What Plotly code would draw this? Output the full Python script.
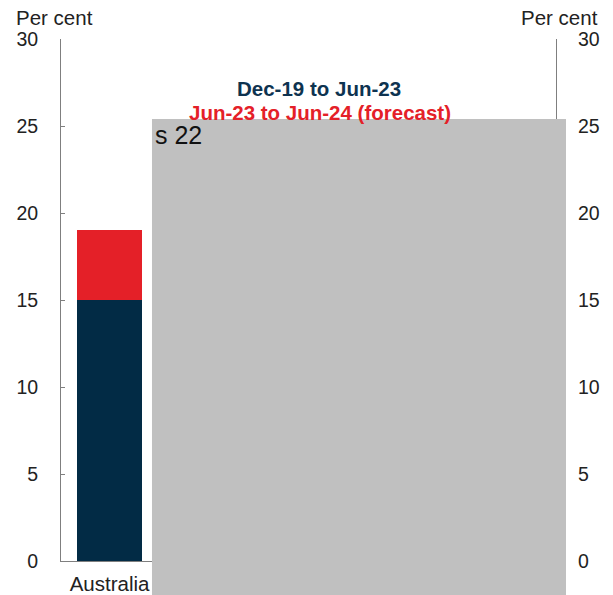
import plotly.graph_objects as go

# Change in the measure, per cent
categories = ["Australia"]
dec19_to_jun23 = [15]
jun23_to_jun24_forecast = [4]

series_names = ["Dec-19 to Jun-23", "Jun-23 to Jun-24 (forecast)"]
navy = "#022B45"
red = "#E42028"
axis_grey = "#7F7F7F"
text_col = "#222222"
font_family = "Arial, Liberation Sans, sans-serif"

fig = go.Figure()
fig.add_trace(go.Bar(x=categories, y=dec19_to_jun23, name=series_names[0],
                     marker=dict(color=navy, line=dict(width=0)), width=0.67))
fig.add_trace(go.Bar(x=categories, y=jun23_to_jun24_forecast, name=series_names[1],
                     marker=dict(color=red, line=dict(width=0)), width=0.67))
# empty trace so the right-hand axis is drawn
fig.add_trace(go.Scatter(x=[], y=[], yaxis="y2", showlegend=False, hoverinfo="skip"))

tick_vals = [0, 5, 10, 15, 20, 25, 30]
yaxis_common = dict(range=[0, 30], tickvals=tick_vals, ticks="inside", ticklen=4,
                    tickcolor=axis_grey, showline=True, linecolor=axis_grey, linewidth=1,
                    showgrid=False, zeroline=False, automargin=False,
                    tickfont=dict(family=font_family, size=19.5, color=text_col))

fig.update_layout(
    width=613, height=595,
    margin=dict(l=61, r=57, t=39, b=34, autoexpand=False),
    paper_bgcolor="white", plot_bgcolor="white",
    barmode="stack", showlegend=False, bargap=0,
    xaxis=dict(range=[-0.5, 4.6], showline=True, linecolor=axis_grey, linewidth=1,
               ticks="", showgrid=False, zeroline=False, ticklabelstandoff=4,
               automargin=False,
               tickfont=dict(family=font_family, size=20.5, color=text_col)),
    yaxis=dict(side="left", ticklabelstandoff=18, **yaxis_common),
    yaxis2=dict(side="right", overlaying="y", anchor="x", ticklabelstandoff=17,
                **yaxis_common),
    font=dict(family=font_family),
)

# "Per cent" unit labels above each axis
fig.add_annotation(text="Per cent", xref="paper", yref="paper", x=-0.094, y=1.042,
                   xanchor="left", yanchor="middle", showarrow=False,
                   font=dict(family=font_family, size=20.5, color=text_col))
fig.add_annotation(text="Per cent", xref="paper", yref="paper", x=1.089, y=1.042,
                   xanchor="right", yanchor="middle", showarrow=False,
                   font=dict(family=font_family, size=20.5, color=text_col))

# Series key as coloured text
fig.add_annotation(text="<b>" + series_names[0] + "</b>", xref="paper", yref="paper",
                   x=0.521, y=0.906, xanchor="center", yanchor="middle", showarrow=False,
                   font=dict(family=font_family, size=20.5, color="#0E3350"))
fig.add_annotation(text="<b>" + series_names[1] + "</b>", xref="paper", yref="paper",
                   x=0.524, y=0.860, xanchor="center", yanchor="middle", showarrow=False,
                   font=dict(family=font_family, size=20.5, color=red))

# Redaction panel over the remaining categories
fig.add_shape(type="rect", xref="paper", yref="paper", x0=0.1838, x1=1.0202,
              y0=-0.07, y1=0.8467, fillcolor="#C0C0C0", line=dict(width=0), layer="above")
fig.add_annotation(text="s 22", xref="paper", yref="paper", x=0.186, y=0.8467,
                   xanchor="left", yanchor="top", showarrow=False,
                   font=dict(family=font_family, size=25, color="#111111"))

fig.write_html("out.html")
